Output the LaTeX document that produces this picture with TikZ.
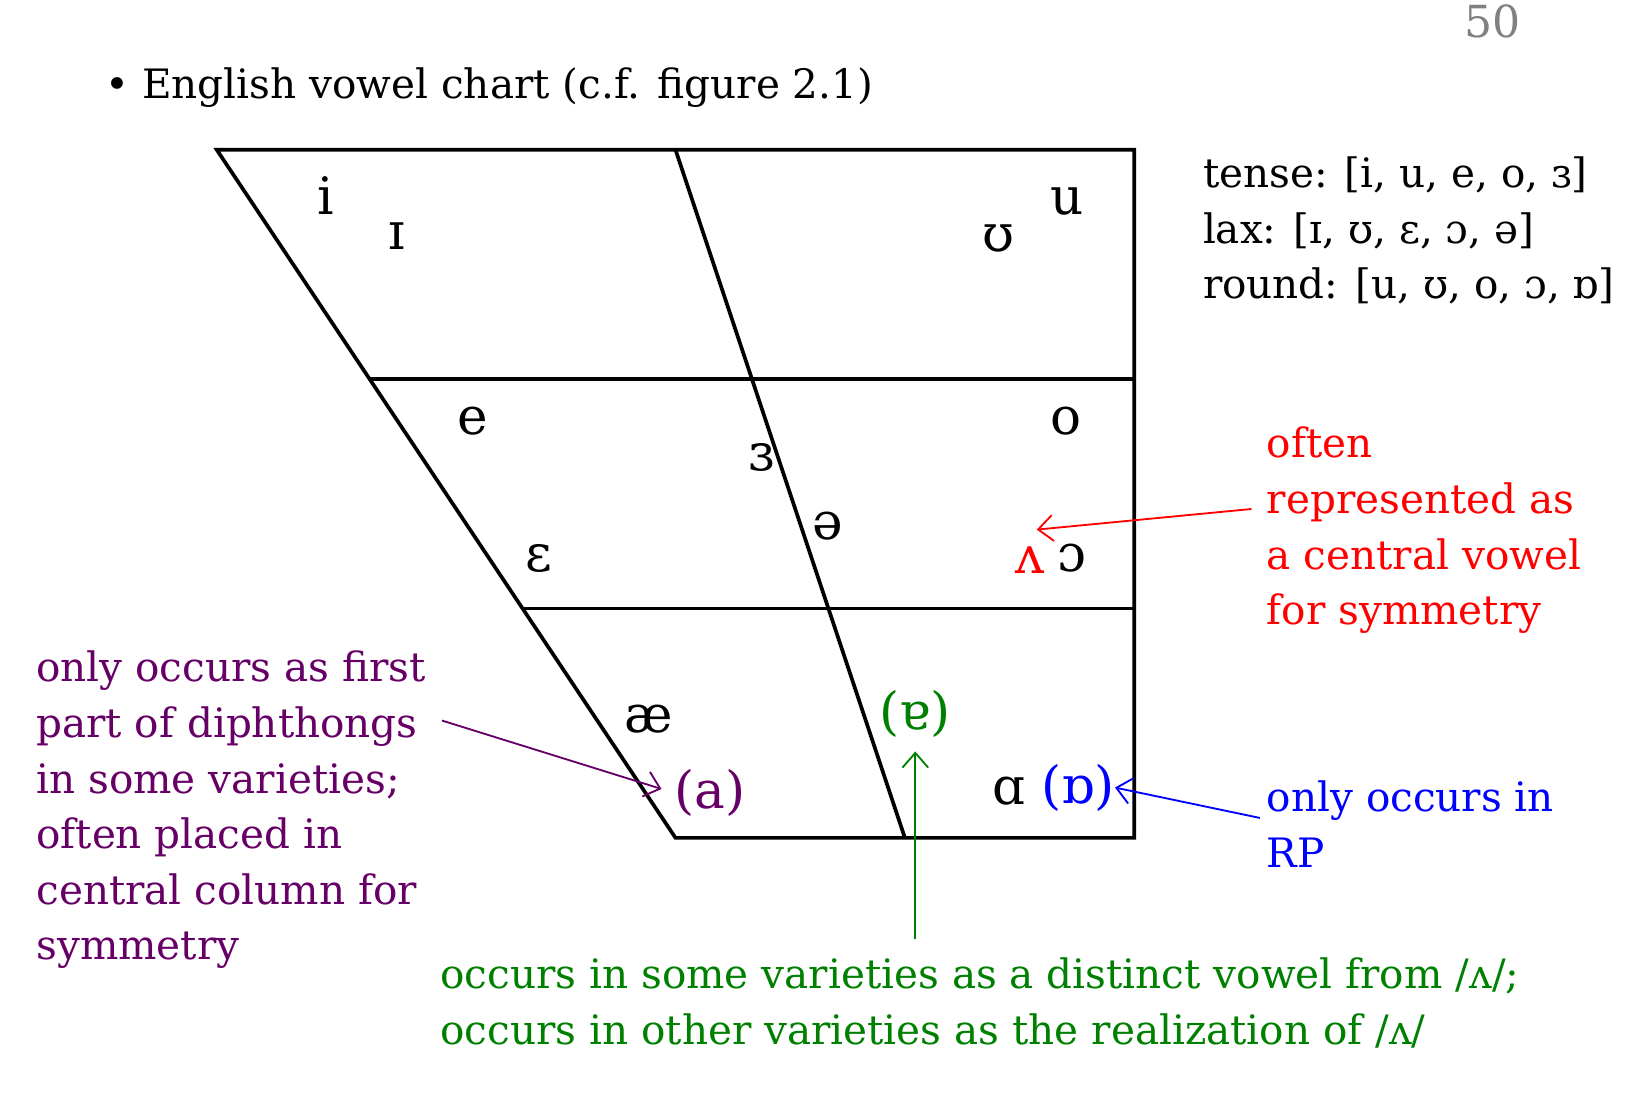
\documentclass[tikz,border=0pt]{standalone}
\usepackage{fontspec}
\setmainfont{DejaVu Serif}
\usepackage{tikz}
\usetikzlibrary{arrows.meta}
\definecolor{note_red}{RGB}{255,0,0}
\definecolor{note_violet}{RGB}{102,0,102}
\definecolor{note_blue}{RGB}{0,0,255}
\definecolor{note_green}{RGB}{0,128,0}
\definecolor{page_gray}{RGB}{128,128,128}
\tikzstyle{vowel_normal} = [inner sep=0pt, font=\fontsize{14}{16}\selectfont]
\tikzstyle{note_normal} = [inner sep=0pt, anchor=north west, align=left, font=\fontsize{11}{15.1}\selectfont]
\tikzstyle{chart_normal} = [line width=1pt, line join=miter]
\tikzstyle{arrow_normal} = [line width=0.5pt, -{Straight Barb[length=4pt,width=7pt]}]

\begin{document}
\begin{tikzpicture}[x=0.01cm, y=-0.01cm]
\useasboundingbox (0,0) rectangle (1565,1047);
% page number and heading
\node (page) at (1425,20) [inner sep=0pt, text=page_gray, font=\fontsize{12}{14}\selectfont] {50};
\node (title) at (100,94) [inner sep=0pt, anchor=base west, font=\fontsize{11}{14}\selectfont] {• English vowel chart (c.f. figure 2.1)};
% chart
\coordinate (TL) at (207,143);
\coordinate (TR) at (1083,143);
\coordinate (BR) at (1083,800);
\coordinate (BL) at (645,800);
\coordinate (TM) at (645,143);
\coordinate (BM) at (864,800);
\coordinate (ML) at (353,362);
\coordinate (MR) at (1083,362);
\coordinate (LL) at (499,581);
\coordinate (LR) at (1083,581);
\draw[chart_normal] (TL)--(TR)--(BR)--(BL)--cycle;
\draw[chart_normal] (TM)--(BM);
\draw[chart_normal] (ML)--(MR) (LL)--(LR);
% vowels
\node (i) at (311,187) [vowel_normal] {i};
\node (I) at (379,225) [vowel_normal] {ɪ};
\node (U) at (953,228) [vowel_normal] {ʊ};
\node (u) at (1019,192) [vowel_normal] {u};
\node (e) at (451,402) [vowel_normal] {e};
\node (o) at (1018,402) [vowel_normal] {o};
\node (er) at (727,437) [vowel_normal] {ɜ};
\node (schwa) at (790,502) [vowel_normal] {ə};
\node (eps) at (515,533) [vowel_normal] {ɛ};
\node (wedge) at (984,535) [vowel_normal, text=note_red] {ʌ};
\node (openo) at (1024,533) [vowel_normal] {ɔ};
\node (ae) at (619,687) [vowel_normal] {æ};
\node (turna) at (874,682) [vowel_normal, text=note_green] {(ɐ)};
\node (a) at (678,757) [vowel_normal, text=note_violet] {(a)};
\node (alpha) at (963,755) [vowel_normal] {ɑ};
\node (turnalpha) at (1029,752) [vowel_normal, text=note_blue] {(ɒ)};
% feature lists
\node (features) at (1148,149) [note_normal] {tense: [i, u, e, o, ɜ]\\lax: [ɪ, ʊ, ɛ, ɔ, ə]\\round: [u, ʊ, o, ɔ, ɒ]};
% notes
\node (rednote) at (1209,407) [note_normal, text=note_red] {often\\represented as\\a central vowel\\for symmetry};
\node (violetnote) at (34,621) [note_normal, text=note_violet] {only occurs as first\\part of diphthongs\\in some varieties;\\often placed in\\central column for\\symmetry};
\node (bluenote) at (1209,745) [note_normal, text=note_blue] {only occurs in\\RP};
\node (greennote) at (420,914) [note_normal, text=note_green] {occurs in some varieties as a distinct vowel from /ʌ/;\\occurs in other varieties as the realization of /ʌ/};
\coordinate (redfrom) at (1195,486);
\coordinate (violetfrom) at (422,688);
\coordinate (bluefrom) at (1203,781);
\coordinate (greenfrom) at (874,897);
\draw[arrow_normal, note_red] (redfrom)--([xshift=1.7pt,yshift=4.5pt]wedge.north);
\draw[arrow_normal, note_violet, shorten >=3.5pt] (violetfrom)--(a.west);
\draw[arrow_normal, note_blue] (bluefrom)--(turnalpha.east);
\draw[arrow_normal, note_green, shorten >=3.5pt] (greenfrom)--(turna.south);
\end{tikzpicture}
\end{document}
